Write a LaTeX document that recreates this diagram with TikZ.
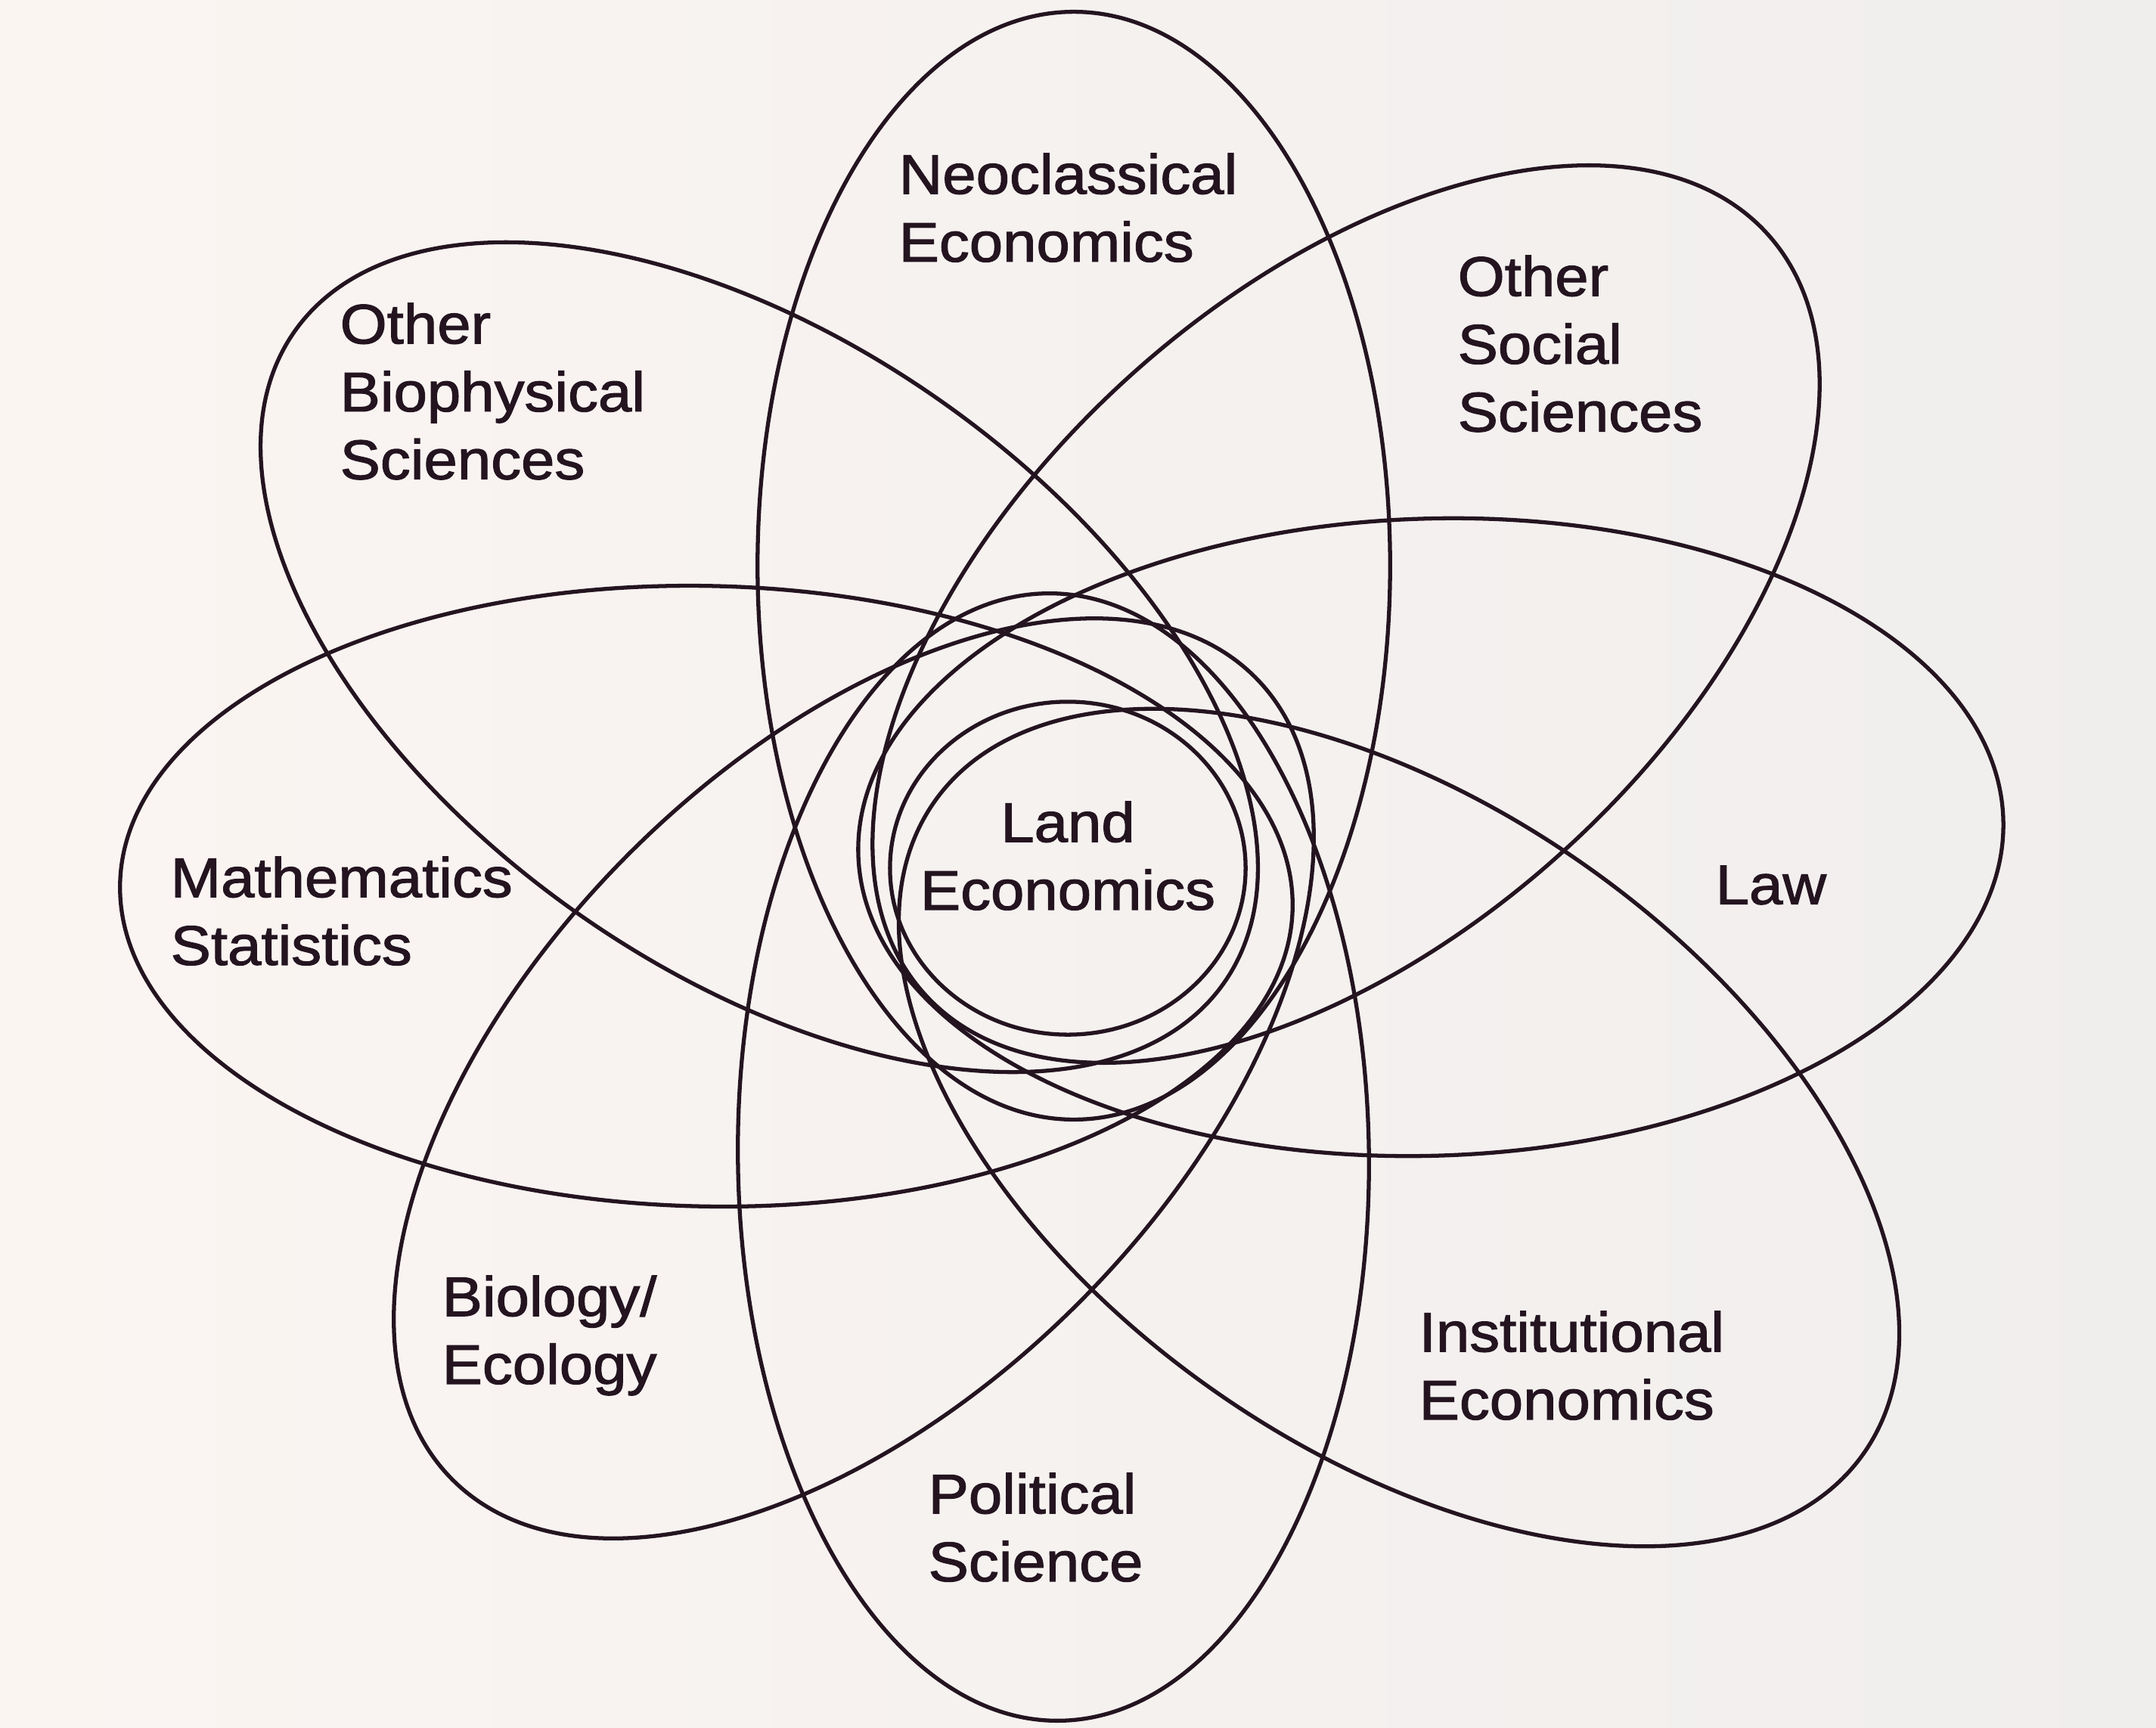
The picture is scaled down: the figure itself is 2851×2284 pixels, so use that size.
\documentclass[tikz,border=0pt]{standalone}
\usepackage{fontspec}
\setmainfont{Liberation Sans}
\newfontfamily\labfont[FakeStretch=1.08,FakeBold=1.6]{Liberation Sans}
\usetikzlibrary{shapes.geometric}
\definecolor{paperL}{RGB}{251,245,242}
\definecolor{paperR}{RGB}{240,238,237}
\definecolor{ink}{RGB}{36,20,32}
\begin{document}
\begin{tikzpicture}[x=0.01cm,y=-0.01cm,
  petal/.style={draw=ink, line width=1.5pt, ellipse, inner sep=0pt, outer sep=0pt},
  lab/.style={inner sep=0pt, anchor=north west, align=left, text=ink,
    font=\labfont\fontsize{21pt}{25.5pt}\selectfont}]
\shade[left color=paperL, right color=paperR] (0,0) rectangle (2851,2284);
\useasboundingbox (0,0) rectangle (2851,2284);
% petals
\node[petal, minimum width=14.64cm, minimum height=8.36cm, rotate=90] (neo) at (1420,748) {};
\node[petal, minimum width=14.9cm, minimum height=8.34cm, rotate=-89.4] (pol) at (1393,1530) {};
\node[petal, minimum width=15.5cm, minimum height=8.2cm, rotate=-1.2] (mat) at (934,1185) {};
\node[petal, minimum width=15.14cm, minimum height=8.42cm, rotate=1.8] (law) at (1892,1107) {};
\node[petal, minimum width=15cm, minimum height=8.3cm, rotate=-35] (bio) at (1004,869) {};
\node[petal, minimum width=15cm, minimum height=8.5cm, rotate=42] (soc) at (1780,812) {};
\node[petal, minimum width=15cm, minimum height=8.4cm, rotate=45] (eco) at (1129,1426) {};
\node[petal, minimum width=15cm, minimum height=8.5cm, rotate=-35] (ins) at (1850,1491) {};
\node[petal, minimum width=4.7cm, minimum height=4.4cm] (land) at (1412,1148) {};
% labels
\node[lab] (tneo) at (1188,202) {Neoclassical\\Economics};
\node[lab] (tbio) at (449,400) {Other\\Biophysical\\Sciences};
\node[lab] (tsoc) at (1927,337) {Other\\Social\\Sciences};
\node[lab] (tmat) at (225,1132) {Mathematics\\Statistics};
\node[lab] (tlaw) at (2268,1144) {Law};
\node[lab] (teco) at (584,1686) {Biology/\\Ecology};
\node[lab] (tpol) at (1227,1947) {Political\\Science};
\node[lab] (tins) at (1876,1733) {Institutional\\Economics};
\node[lab, anchor=north, align=center] (tland) at (1412,1059) {Land\\Economics};
\end{tikzpicture}
\end{document}
